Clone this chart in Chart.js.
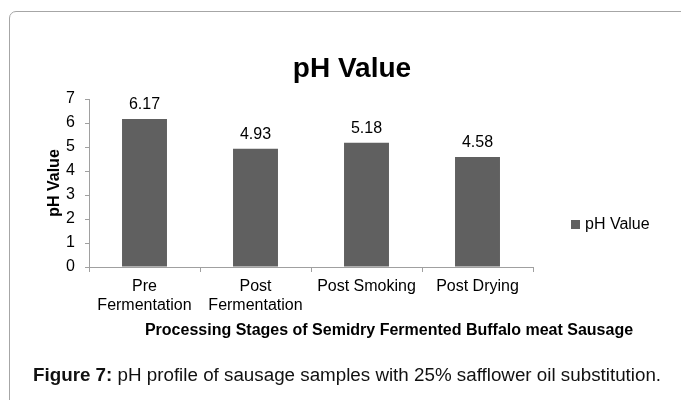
<!DOCTYPE html>
<html>
<head>
<meta charset="utf-8">
<script src="https://cdn.jsdelivr.net/npm/chart.js@4/dist/chart.umd.min.js"></script>
<style>
html,body{margin:0;padding:0;background:#fff;overflow:hidden;width:681px;height:400px;}
#frame{position:absolute;left:9px;top:11px;width:720px;height:440px;border:1px solid #a6a6a6;border-radius:7px;box-sizing:border-box;}
#wrap{position:absolute;left:0;top:0;width:681px;height:400px;}
#cap{position:absolute;left:33px;top:363px;font-family:"Liberation Sans",Arial,sans-serif;font-size:18.8px;color:#111;white-space:nowrap;line-height:24px;}
</style>
</head>
<body>
<div id="frame"></div>
<div id="wrap"><canvas id="c" width="681" height="400"></canvas></div>
<div id="cap"><b>Figure 7:</b> pH profile of sausage samples with 25% safflower oil substitution.</div>
<script>
const categories = [["Pre", "Fermentation"], ["Post", "Fermentation"], "Post Smoking", "Post Drying"];
const phValues = [6.17, 4.93, 5.18, 4.58];
const yTicks = [0, 1, 2, 3, 4, 5, 6, 7];
const seriesName = "pH Value";
const chartTitle = "pH Value";
const yTitle = "pH Value";
const xTitle = "Processing Stages of Semidry Fermented Buffalo meat Sausage";

const FAMILY = '"Liberation Sans", Arial, sans-serif';
Chart.defaults.font.family = FAMILY;
Chart.defaults.color = '#000';

// value labels above bars, the x-axis title and the legend item
const extras = {
  id: 'extras',
  afterDatasetsDraw(chart) {
    const ctx = chart.ctx;
    const meta = chart.getDatasetMeta(0);
    ctx.save();
    ctx.font = '16px ' + FAMILY;
    ctx.fillStyle = '#000';
    ctx.textAlign = 'center';
    ctx.textBaseline = 'middle';
    meta.data.forEach((bar, i) => {
      ctx.fillText(phValues[i].toFixed(2), bar.x, bar.y - 14);
    });
    ctx.restore();
  },
  afterDraw(chart) {
    const ctx = chart.ctx;
    const ds = chart.data.datasets[0];
    ctx.save();
    // x axis title
    ctx.font = 'bold 16px ' + FAMILY;
    ctx.fillStyle = '#000';
    ctx.textAlign = 'center';
    ctx.textBaseline = 'middle';
    ctx.fillText(xTitle, 389, 331);
    // legend
    ctx.fillStyle = ds.backgroundColor;
    ctx.fillRect(571, 220, 9, 9);
    ctx.fillStyle = '#000';
    ctx.font = '16px ' + FAMILY;
    ctx.textAlign = 'left';
    ctx.fillText(ds.label, 585, 225);
    ctx.restore();
  }
};

const titleShift = {
  id: 'titleShift',
  afterLayout(chart) {
    const t = chart.titleBlock;
    if (t) { t.left = 50; t.right = 654; }
  }
};

new Chart(document.getElementById('c'), {
  type: 'bar',
  data: {
    labels: categories,
    datasets: [{
      label: seriesName,
      data: phValues,
      backgroundColor: '#606060',
      borderWidth: 0,
      categoryPercentage: 1,
      barPercentage: 0.405
    }]
  },
  options: {
    responsive: false,
    animation: false,
    layout: { padding: { left: 30, right: 148, top: 0, bottom: 49 } },
    plugins: {
      title: {
        display: true,
        text: chartTitle,
        color: '#000',
        font: { size: 28, weight: 'bold', family: FAMILY },
        padding: { top: 52, bottom: 13.4 }
      },
      legend: { display: false },
      tooltip: { enabled: false }
    },
    scales: {
      x: {
        offset: true,
        grid: { display: true, offset: true, drawOnChartArea: false, drawTicks: true, tickLength: 5, color: '#a0a0a0', lineWidth: 1 },
        border: { display: true, color: '#a0a0a0', width: 1 },
        ticks: { color: '#000', font: { size: 16, family: FAMILY }, padding: 5, maxRotation: 0, autoSkip: false },
        title: { display: false, text: xTitle },
        afterFit(s) { s.height = 84; }
      },
      y: {
        min: 0,
        max: 7,
        afterBuildTicks(s) { s.ticks = yTicks.map(v => ({ value: v })); },
        ticks: { color: '#000', font: { size: 16, family: FAMILY }, padding: 10 },
        grid: { drawOnChartArea: false, drawTicks: true, tickLength: 4, color: '#a0a0a0' },
        border: { display: true, color: '#a0a0a0', width: 1 },
        title: { display: true, text: yTitle, color: '#000', font: { size: 16, weight: 'bold', family: FAMILY }, padding: { top: 15, bottom: 0 } },
        afterFit(s) { s.width = 59; }
      }
    }
  },
  plugins: [extras, titleShift]
});
</script>
</body>
</html>
